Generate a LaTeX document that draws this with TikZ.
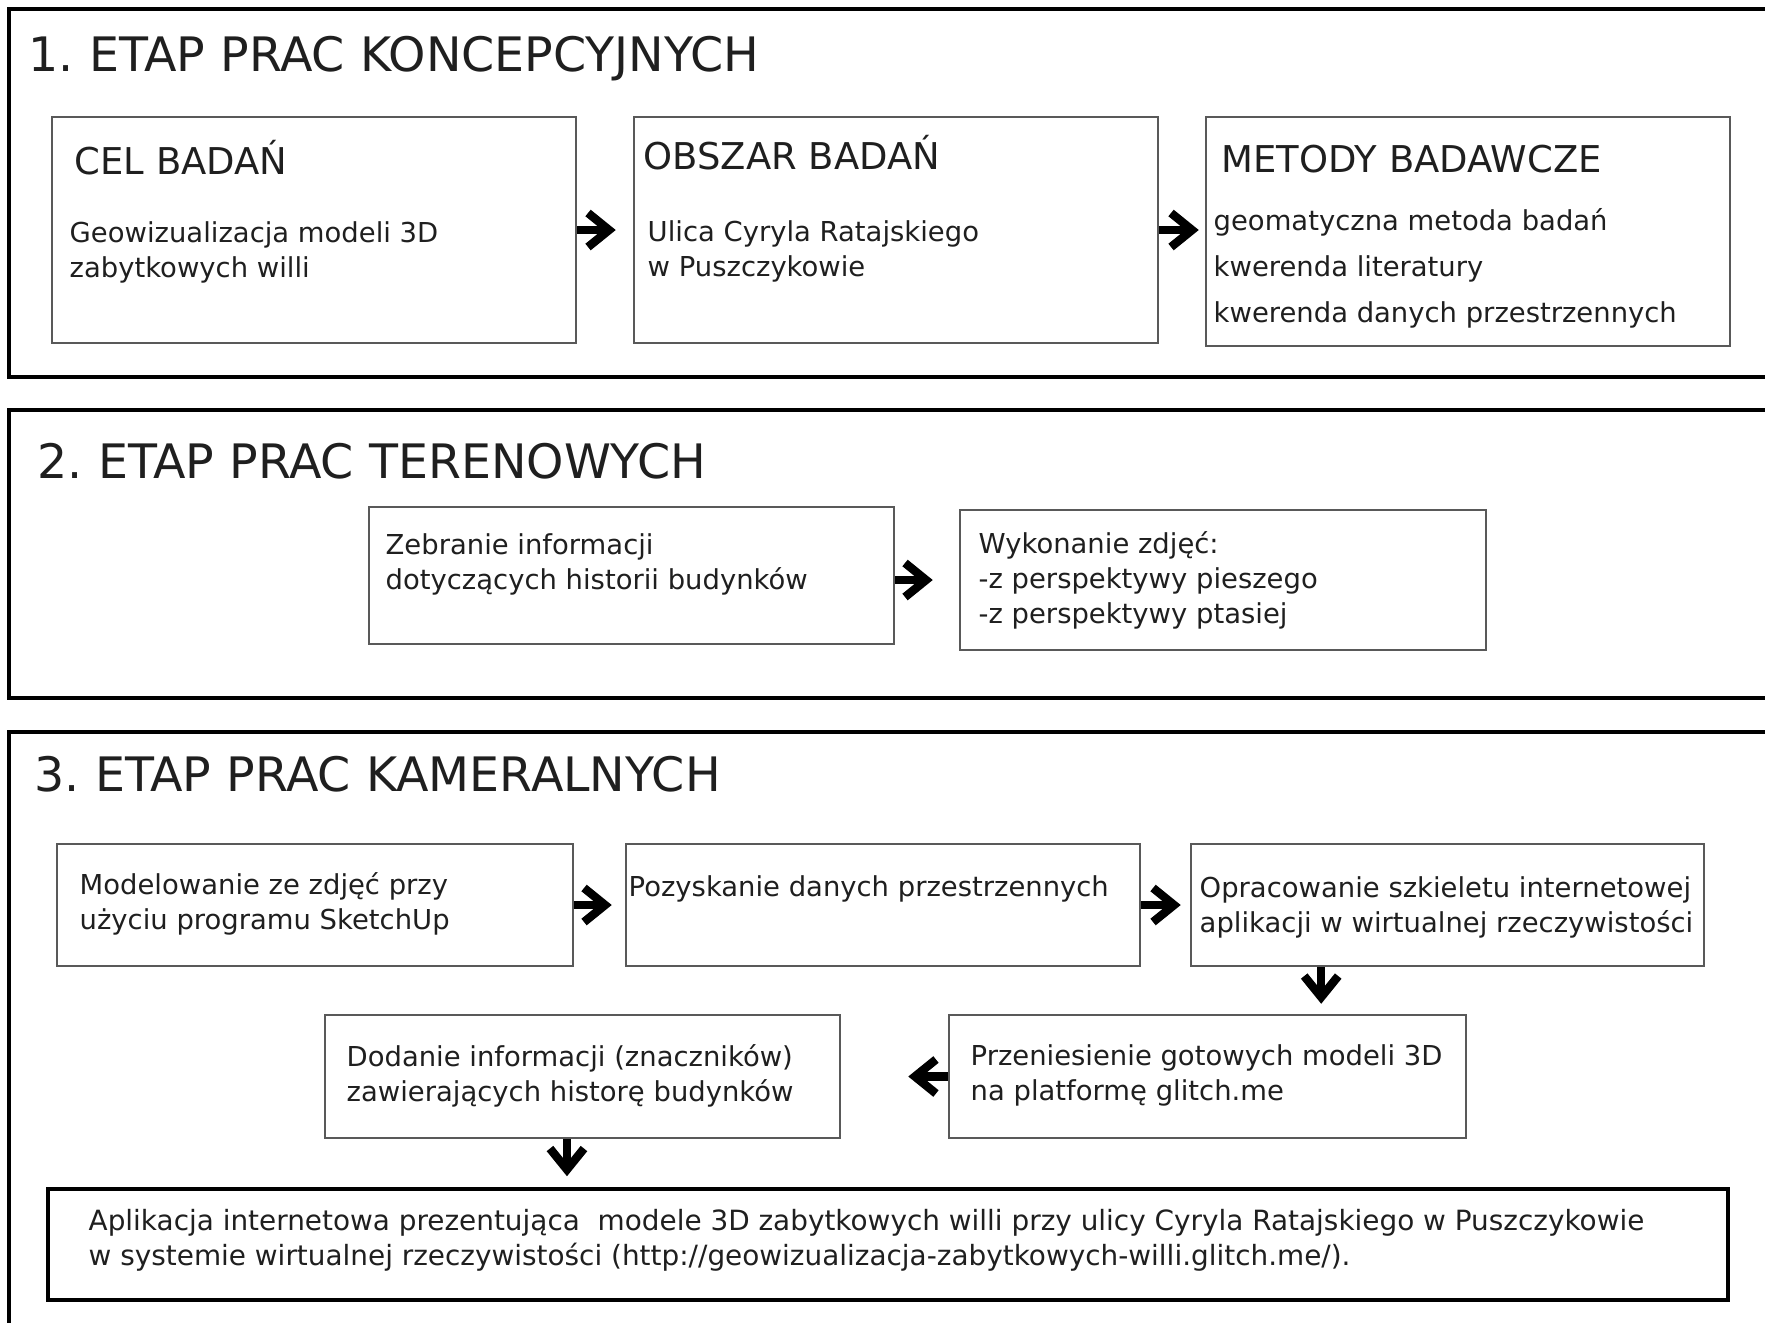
\documentclass[tikz,border=0pt]{standalone}
\usepackage{fontspec}
\setmainfont{DejaVu Sans}
\usetikzlibrary{calc,positioning,fit,arrows.meta}
\definecolor{boxline}{gray}{0.35}
\definecolor{ink}{gray}{0.12}
\tikzstyle{frame}  = [draw=black, line width=1.3pt]
\tikzstyle{box}    = [draw=boxline, line width=0.7pt, inner sep=0pt]
\tikzstyle{title}  = [anchor=base west, inner sep=0pt, text=ink, font=\fontsize{13.5}{16}\selectfont]
\tikzstyle{head}   = [anchor=base west, inner sep=0pt, text=ink, font=\fontsize{10.5}{13}\selectfont]
\tikzstyle{body}   = [anchor=north west, inner sep=0pt, align=left, text=ink, font=\fontsize{7.8}{9.9}\selectfont]
\tikzstyle{arrow}  = [line width=2.4pt, -{Straight Barb[length=2.1mm,width=3.4mm]}]
\frenchspacing

\begin{document}
\begin{tikzpicture}[x=0.01cm,y=-0.01cm]
    \clip (0,0) rectangle (1765,1323);
    \fill[white] (0,0) rectangle (1765,1323);

    % stage frames
    \draw[frame] (9,9) rectangle (1800,377);
    \draw[frame] (9,410) rectangle (1800,698);
    \draw[frame] (9,732) rectangle (1800,1360);

    \node[title] (etap1) at (28,71) {1. ETAP PRAC KONCEPCYJNYCH};
    \node[title] (etap2) at (37,478) {2. ETAP PRAC TERENOWYCH};
    \node[title] (etap3) at (34,791) {3. ETAP PRAC KAMERALNYCH};

    % 1. etap
    \node[box, fit={(52,117) (576,343)}] (cel) {};
    \node[box, fit={(634,117) (1158,343)}] (obszar) {};
    \node[box, fit={(1206,117) (1730,346)}] (metody) {};
    \node[head] (cel-h) at (74,174) {CEL BADAŃ};
    \node[head] (obszar-h) at (643,169) {OBSZAR BADAŃ};
    \node[head] (metody-h) at (1221,172) {METODY BADAWCZE};
    \node[body] (cel-t) at (69,221) {Geowizualizacja modeli 3D\\zabytkowych willi};
    \node[body] (obszar-t) at (647,220) {Ulica Cyryla Ratajskiego\\w Puszczykowie};
    \node[body, font=\fontsize{7.8}{13.1}\selectfont] (metody-t) at (1213,208)
        {geomatyczna metoda badań\\kwerenda literatury\\kwerenda danych przestrzennych};

    \draw[arrow, shorten >=0.17cm] (cel) -- (obszar);
    \draw[arrow, shorten >=0.06cm] (obszar.east) -- (obszar.east -| metody.west);

    % 2. etap
    \node[box, fit={(369,507) (894,644)}] (zebranie) {};
    \node[box, fit={(960,510) (1486,650)}] (zdjecia) {};
    \node[body] (zebranie-t) at (385,533) {Zebranie informacji\\dotyczących historii budynków};
    \node[body] (zdjecia-t) at (978,531) {Wykonanie zdjęć:\\-z perspektywy pieszego\\-z perspektywy ptasiej};

    \draw[arrow, shorten >=0.26cm] (zebranie.east |- zdjecia.west) -- (zdjecia.west);

    % 3. etap
    \node[box, fit={(57,844) (573,966)}] (model) {};
    \node[box, fit={(626,844) (1140,966)}] (dane) {};
    \node[box, fit={(1191,844) (1704,966)}] (szkielet) {};
    \node[box, fit={(325,1015) (840,1138)}] (znaczniki) {};
    \node[box, fit={(949,1015) (1466,1138)}] (glitch) {};
    \node[box, draw=black, line width=1pt, fit={(48,1189) (1728,1300)}] (aplikacja) {};

    \node[body] (model-t) at (79,872) {Modelowanie ze zdjęć przy\\użyciu programu SketchUp};
    \node[body] (dane-t) at (628,875) {Pozyskanie danych przestrzennych};
    \node[body] (szkielet-t) at (1199,876) {Opracowanie szkieletu internetowej\\aplikacji w wirtualnej rzeczywistości};
    \node[body] (znaczniki-t) at (346,1044) {Dodanie informacji (znaczników)\\zawierających historę budynków};
    \node[body] (glitch-t) at (970,1044) {Przeniesienie gotowych modeli 3D\\na platformę glitch.me};
    \node[body, font=\fontsize{7.93}{9.9}\selectfont] (aplikacja-t) at (88,1209) {Aplikacja internetowa prezentująca\ \ modele 3D zabytkowych willi przy ulicy Cyryla Ratajskiego w Puszczykowie\\w systemie wirtualnej rzeczywistości (http://geowizualizacja-zabytkowych-willi.glitch.me/).};

    \draw[arrow, shorten >=0.13cm] (model) -- (dane);
    \draw[arrow, shorten >=0.09cm] (dane) -- (szkielet);
    \draw[arrow, shorten >=0.1cm] ($(szkielet.south west)!0.255!(szkielet.south east)$) coordinate (s1) -- (s1 |- glitch.north);
    \draw[arrow, shorten >=0.67cm] (glitch.west) -- (glitch.west -| znaczniki.east);
    \draw[arrow, shorten >=0.11cm] ($(znaczniki.south west)!0.47!(znaczniki.south east)$) coordinate (s2) -- (s2 |- aplikacja.north);
\end{tikzpicture}
\end{document}
